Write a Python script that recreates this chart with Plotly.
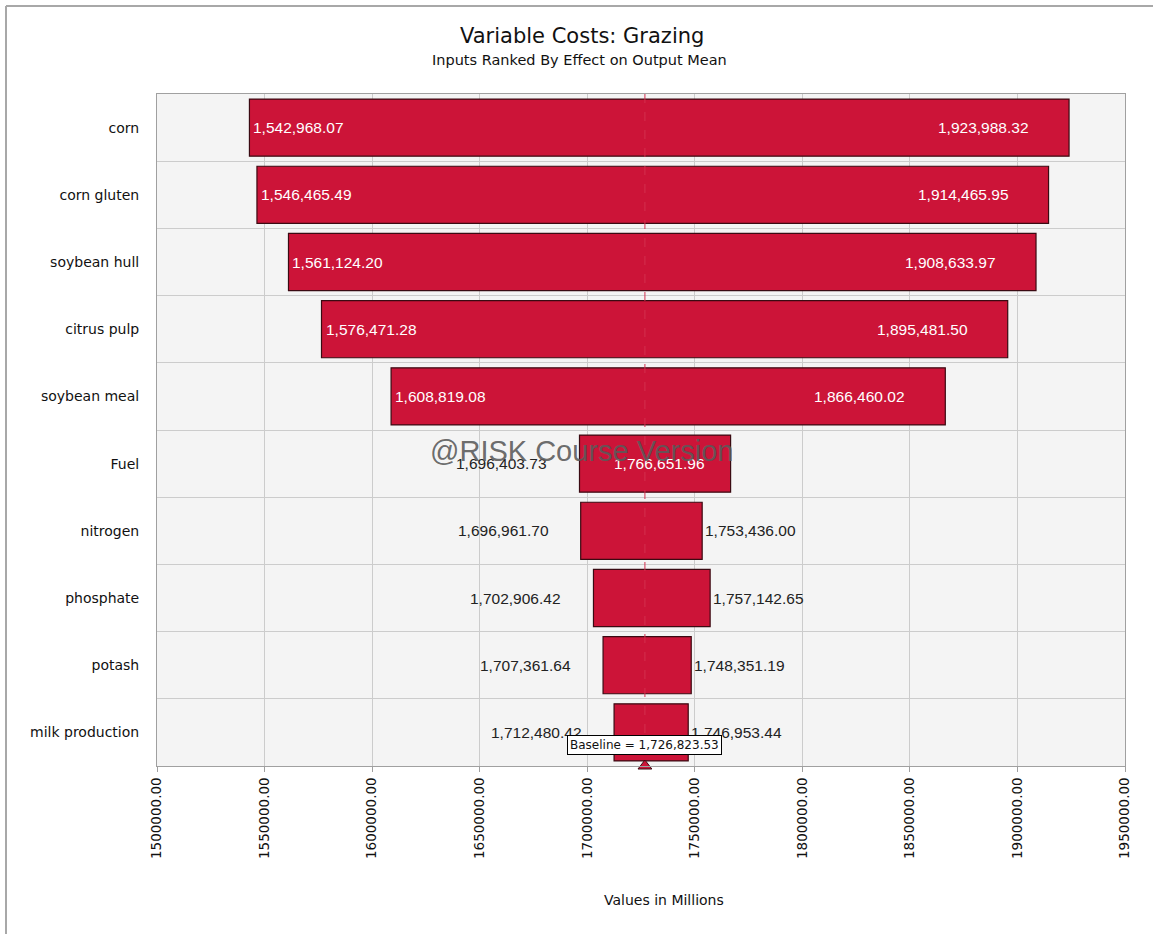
import plotly.graph_objects as go

categories = ["corn", "corn gluten", "soybean hull", "citrus pulp", "soybean meal",
              "Fuel", "nitrogen", "phosphate", "potash", "milk production"]
low_values = [1542968.07, 1546465.49, 1561124.20, 1576471.28, 1608819.08,
              1696403.73, 1696961.70, 1702906.42, 1707361.64, 1712480.42]
high_values = [1923988.32, 1914465.95, 1908633.97, 1895481.50, 1866460.02,
               1766651.96, 1753436.00, 1757142.65, 1748351.19, 1746953.44]
baseline = 1726823.53
x_ticks = [1500000, 1550000, 1600000, 1650000, 1700000, 1750000, 1800000, 1850000, 1900000, 1950000]

W, H = 1153, 934
L, R, T, B = 157, 1125, 94, 766

BAR = "#CC1438"
EDGE = "#3A0A12"
NUMFONT = "Liberation Sans, Arial, sans-serif"
TXTFONT = "DejaVu Sans, Verdana, sans-serif"

ypos = list(range(len(categories)))

fig = go.Figure()
fig.add_trace(go.Bar(
    y=ypos,
    x=[h - l for l, h in zip(low_values, high_values)],
    base=low_values,
    orientation="h",
    width=0.85,
    marker=dict(color=BAR, line=dict(color=EDGE, width=1.2)),
    hoverinfo="skip",
    showlegend=False,
))

# baseline dashed line
fig.add_trace(go.Scatter(
    x=[baseline, baseline], y=[-0.5, len(categories) - 0.5],
    mode="lines", line=dict(color="#D4304F", width=1, dash="dash"),
    hoverinfo="skip", showlegend=False,
))
# baseline triangle
fig.add_trace(go.Scatter(
    x=[baseline], y=[len(categories) - 0.5], mode="markers",
    marker=dict(symbol="triangle-up", size=12, color=BAR, line=dict(color=EDGE, width=1)),
    cliponaxis=False, hoverinfo="skip", showlegend=False,
))

NUMSIZE = 15.5
annotations = []
for i, (lo, hi) in enumerate(zip(low_values, high_values)):
    span = hi - lo
    lo_txt = f"{lo:,.2f}"
    hi_txt = f"{hi:,.2f}"
    if span > 150000:
        annotations.append(dict(x=lo, y=i, text=lo_txt, xanchor="left", xshift=2,
                                showarrow=False, font=dict(family=NUMFONT, size=NUMSIZE, color="white")))
        annotations.append(dict(x=hi, y=i, text=hi_txt, xanchor="right", xshift=-38,
                                showarrow=False, font=dict(family=NUMFONT, size=NUMSIZE, color="white")))
    else:
        annotations.append(dict(x=lo, y=i, text=lo_txt, xanchor="right", xshift=-30,
                                showarrow=False, font=dict(family=NUMFONT, size=NUMSIZE, color="#222222")))
        if span > 60000:
            annotations.append(dict(x=hi, y=i, text=hi_txt, xanchor="right", xshift=-24,
                                    showarrow=False, font=dict(family=NUMFONT, size=NUMSIZE, color="white")))
        else:
            annotations.append(dict(x=hi, y=i, text=hi_txt, xanchor="left", xshift=1,
                                    showarrow=False, font=dict(family=NUMFONT, size=NUMSIZE, color="#222222")))

# watermark
annotations.append(dict(xref="paper", yref="paper", x=(581 - L) / (R - L), y=(B - 451) / (B - T),
                        text="@RISK Course Version", showarrow=False, xanchor="center", yanchor="middle",
                        font=dict(family=NUMFONT, size=29, color="rgba(90,90,90,0.9)")))
# baseline label
annotations.append(dict(x=baseline, y=len(categories) - 0.5, text=f"Baseline = {baseline:,.2f}",
                        showarrow=False, yshift=21, xanchor="center", yanchor="middle",
                        bgcolor="white", bordercolor="black", borderwidth=1, borderpad=2,
                        font=dict(family=TXTFONT, size=12, color="#111111")))
# titles
annotations.append(dict(xref="paper", yref="paper", x=(581.5 - L) / (R - L), y=(B - 36) / (B - T),
                        text="Variable Costs: Grazing", showarrow=False, xanchor="center", yanchor="middle",
                        font=dict(family=TXTFONT, size=21, color="#111111")))
annotations.append(dict(xref="paper", yref="paper", x=(579.5 - L) / (R - L), y=(B - 60) / (B - T),
                        text="Inputs Ranked By Effect on Output Mean", showarrow=False,
                        xanchor="center", yanchor="middle",
                        font=dict(family=TXTFONT, size=14.5, color="#111111")))
annotations.append(dict(xref="paper", yref="paper", x=(664 - L) / (R - L), y=(B - 900) / (B - T),
                        text="Values in Millions", showarrow=False, xanchor="center", yanchor="middle",
                        font=dict(family=TXTFONT, size=14, color="#111111")))

fig.update_layout(
    width=W, height=H,
    margin=dict(l=L, r=W - R, t=T, b=H - B, pad=0),
    paper_bgcolor="white",
    plot_bgcolor="#F4F4F4",
    annotations=annotations,
    bargap=0.15,
    shapes=[
        dict(type="line", xref="paper", yref="paper",
             x0=(6 - L) / (R - L), x1=(W - L) / (R - L),
             y0=(B - 6) / (B - T), y1=(B - 6) / (B - T),
             line=dict(color="#A8A8A8", width=2)),
        dict(type="line", xref="paper", yref="paper",
             x0=(6 - L) / (R - L), x1=(6 - L) / (R - L),
             y0=(B - 6) / (B - T), y1=(B - H) / (B - T),
             line=dict(color="#A8A8A8", width=2)),
    ],
)

fig.update_xaxes(
    range=[x_ticks[0], x_ticks[-1]],
    tickvals=x_ticks,
    ticktext=[f"{v:.2f}" for v in x_ticks],
    tickangle=-90,
    ticks="outside", ticklen=5, tickcolor="#A0A0A0",
    tickfont=dict(family=TXTFONT, size=13.5, color="#111111"),
    showgrid=True, gridcolor="#CCCCCC", gridwidth=1,
    showline=True, linecolor="#A0A0A0", linewidth=1, mirror=True,
    zeroline=False,
)
fig.update_yaxes(
    range=[len(categories) - 0.5, -0.5],
    tickvals=ypos,
    ticktext=categories,
    ticks="", ticklabelstandoff=14,
    tickfont=dict(family=TXTFONT, size=14, color="#111111"),
    showgrid=False,
    minor=dict(tick0=0.5, dtick=1, showgrid=True, gridcolor="#CCCCCC", gridwidth=1, ticks=""),
    showline=True, linecolor="#A0A0A0", linewidth=1, mirror=True,
    zeroline=False,
)

fig.write_html("out.html")
